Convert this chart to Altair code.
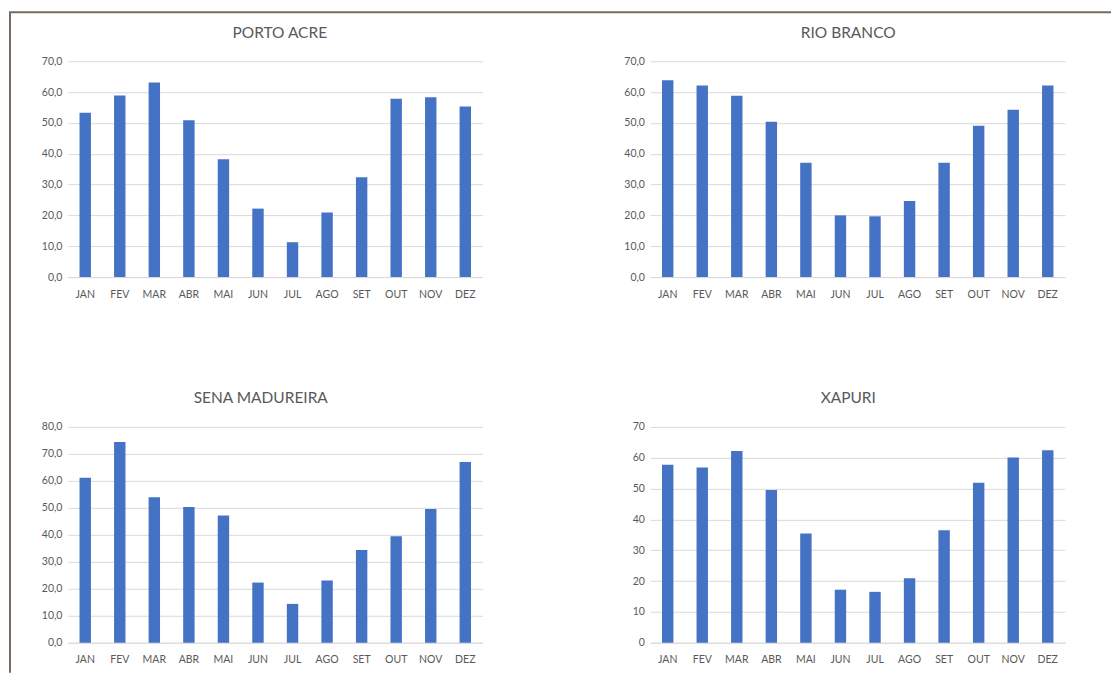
import altair as alt
import pandas as pd

months = ["JAN", "FEV", "MAR", "ABR", "MAI", "JUN", "JUL", "AGO", "SET", "OUT", "NOV", "DEZ"]

porto_acre = [53.3, 58.9, 63.1, 50.9, 38.2, 22.2, 11.3, 20.9, 32.4, 57.8, 58.3, 55.3]
rio_branco = [63.8, 62.1, 58.8, 50.4, 37.1, 20.0, 19.7, 24.7, 37.1, 49.1, 54.3, 62.1]
sena_madureira = [61.2, 74.4, 53.9, 50.3, 47.2, 22.3, 14.4, 23.1, 34.4, 39.5, 49.6, 67.0]
xapuri = [57.7, 56.8, 62.2, 49.5, 35.4, 17.2, 16.5, 20.9, 36.5, 51.9, 60.1, 62.4]

stations = ["PORTO ACRE", "RIO BRANCO", "SENA MADUREIRA", "XAPURI"]
series = [porto_acre, rio_branco, sena_madureira, xapuri]
y_max = [70, 70, 80, 70]
decimal_labels = [True, True, True, False]
title_x = [212, 198, 193, 198]

BLUE = "#4472C4"
GRID = "#D9D9D9"
TEXT = "#595959"
FONT = "Lato"
W, H = 415, 216


def panel(name, values, ymax, decimals, tx, frame=False):
    df = pd.DataFrame({"month": months, "value": values})
    if decimals:
        label_expr = "replace(format(datum.value, '.1f'), '.', ',')"
    else:
        label_expr = "format(datum.value, 'd')"
    bars = alt.Chart(df).mark_bar(color=BLUE).encode(
        x=alt.X("month:N", sort=months, title=None,
                scale=alt.Scale(paddingInner=0.67, paddingOuter=0.335),
                axis=alt.Axis(labelAngle=0, ticks=False, tickSize=0, labelPadding=12,
                              domainColor=GRID, domainWidth=1, labelColor=TEXT,
                              labelFont=FONT, labelFontSize=10.5, grid=False)),
        y=alt.Y("value:Q", title=None,
                scale=alt.Scale(domain=[0, ymax], nice=False),
                axis=alt.Axis(values=list(range(0, ymax + 1, 10)), labelExpr=label_expr,
                              domain=False, ticks=False, tickSize=0, labelPadding=6,
                              gridColor=GRID, gridWidth=1, labelColor=TEXT,
                              labelFont=FONT, labelFontSize=10.5)),
    )
    title = alt.Chart(alt.Data(values=[{"t": name}])).mark_text(
        font=FONT, fontSize=15.5, color=TEXT, align="center", baseline="middle"
    ).encode(text="t:N", x=alt.value(tx), y=alt.value(-28.5))
    layers = [bars, title]
    if frame:
        fdata = alt.Data(values=[{"k": 1}])
        vline = alt.Chart(fdata).mark_rule(color="#766B5F", strokeWidth=2).encode(
            x=alt.value(-58), y=alt.value(-49), y2=alt.value(612))
        hline = alt.Chart(fdata).mark_rule(color="#766B5F", strokeWidth=2).encode(
            x=alt.value(-59), x2=alt.value(1044), y=alt.value(-49))
        layers += [vline, hline]
    return alt.layer(*layers).properties(width=W, height=H)


panels = [
    panel(stations[i], series[i], y_max[i], decimal_labels[i], title_x[i], frame=(i == 0))
    for i in range(4)
]

chart = alt.concat(
    *panels, columns=2, spacing={"row": 150, "column": 168}, bounds="flush"
).properties(
    padding={"left": 0, "top": 3, "right": 0, "bottom": 0},
    background="white",
).configure_view(stroke=None)

chart.save("out.html", embed_options={"renderer": "svg", "actions": False})
